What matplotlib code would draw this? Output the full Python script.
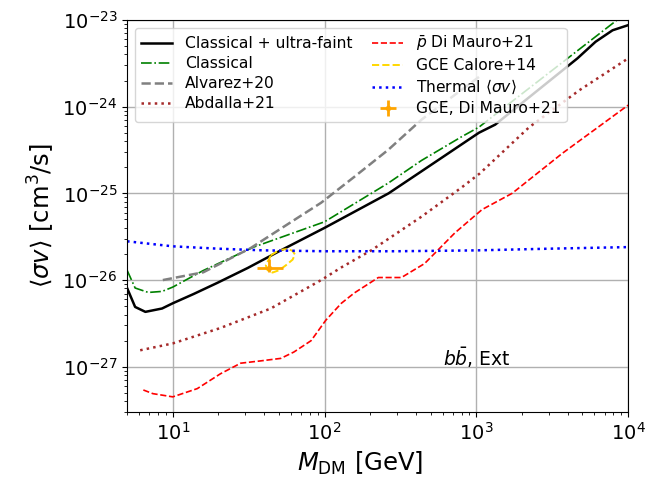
import matplotlib

matplotlib.use("Agg")
import matplotlib.pyplot as plt
import numpy as np

# Upper limits on <sigma v> vs DM mass, b-bbar channel
m_combined = [5, 5.65, 6.6, 8.5, 10, 13.7, 19.7, 31.2, 51.5, 100, 264, 436, 1040, 1330, 4630,
              6100, 7900, 10000]
sv_combined = [8.1e-27, 4.9e-27, 4.3e-27, 4.7e-27, 5.4e-27, 6.9e-27, 9.3e-27, 1.38e-26, 2.2e-26,
               4.0e-26, 1.0e-25, 1.8e-25, 5.0e-25, 6.2e-25, 3.6e-24, 5.6e-24, 7.6e-24, 8.7e-24]

m_classical = [5, 5.65, 6.9, 8.5, 10, 15.9, 34.1, 100, 264, 436, 800, 1040, 8150, 10000]
sv_classical = [1.3e-26, 8.1e-27, 7.2e-27, 7.4e-27, 8.3e-27, 1.29e-26, 2.4e-26, 4.7e-26,
                1.32e-25, 2.4e-25, 4.5e-25, 5.8e-25, 9.5e-24, 1.25e-23]

m_alvarez = [8.6, 15.9, 32.6, 62.8, 95, 157, 264, 436, 1040]
sv_alvarez = [1.0e-26, 1.23e-26, 2.34e-26, 4.9e-26, 7.8e-26, 1.55e-25, 3.2e-25, 7.1e-25, 2.2e-24]

m_abdalla = [6.1, 10, 20.6, 44.2, 95, 129, 203, 436, 800, 1055, 2230, 4780, 10000]
sv_abdalla = [1.55e-27, 1.86e-27, 2.8e-27, 4.7e-27, 1.0e-26, 1.4e-26, 2.2e-26, 5.4e-26,
              1.17e-25, 1.7e-25, 5.8e-25, 1.55e-24, 3.6e-24]

m_pbar = [6.4, 7.4, 10, 14.5, 20.6, 28, 38, 51.5, 62.8, 81.5, 102, 129, 157, 226, 321, 456,
          722, 1090, 1720, 3690, 10000]
sv_pbar = [5.4e-28, 4.9e-28, 4.5e-28, 5.6e-28, 8.3e-28, 1.1e-27, 1.17e-27, 1.25e-27, 1.48e-27,
           2.0e-27, 3.45e-27, 5.4e-27, 7.1e-27, 1.07e-26, 1.07e-26, 1.55e-26, 3.5e-26, 6.5e-26,
           1.0e-25, 2.9e-25, 1.04e-24]

m_thermal = [5, 10, 20, 40, 100, 300, 1000, 3000, 10000]
sv_thermal = [2.8e-26, 2.45e-26, 2.3e-26, 2.2e-26, 2.15e-26, 2.15e-26, 2.2e-26, 2.3e-26, 2.4e-26]

# GCE contour (Calore+14), closed loop
m_calore = [44.3, 50.2, 57.1, 61.6, 63.8, 61.6, 55.6, 50.2, 45.4, 42.1, 41.0, 44.3]
sv_calore = [1.93e-26, 2.21e-26, 2.29e-26, 2.17e-26, 1.97e-26, 1.72e-26, 1.48e-26, 1.30e-26,
             1.22e-26, 1.30e-26, 1.48e-26, 1.93e-26]

# GCE best fit (Di Mauro+21) with ranges
gce_mass = 43.0
gce_mass_range = (35.7, 53.0)
gce_sv = 1.38e-26
gce_sv_range = (1.23e-26, 1.74e-26)

fig = plt.figure(figsize=(6.55, 4.86), dpi=100)
ax = fig.add_axes([0.194, 0.152, 0.765, 0.807])

ax.plot(m_combined, sv_combined, color="black", lw=1.8, label="Classical + ultra-faint")
ax.plot(m_classical, sv_classical, color="green", ls="-.", lw=1.2, label="Classical")
ax.plot(m_alvarez, sv_alvarez, color="gray", ls="--", lw=1.8, label="Alvarez+20")
ax.plot(m_abdalla, sv_abdalla, color="brown", ls=":", lw=1.8, label="Abdalla+21")
ax.plot(m_pbar, sv_pbar, color="red", ls="--", lw=1.2, label=r"$\bar{p}$ Di Mauro+21")
ax.plot(m_calore, sv_calore, color="gold", ls="--", lw=1.4, label="GCE Calore+14")
ax.plot(m_thermal, sv_thermal, color="blue", ls=":", lw=1.8, label=r"Thermal $\langle \sigma v\rangle$")
ax.errorbar(
    gce_mass,
    gce_sv,
    xerr=[[gce_mass - gce_mass_range[0]], [gce_mass_range[1] - gce_mass]],
    yerr=[[gce_sv - gce_sv_range[0]], [gce_sv_range[1] - gce_sv]],
    fmt="o",
    ms=3,
    color="orange",
    elinewidth=2,
    label="GCE, Di Mauro+21",
)

ax.set_xscale("log")
ax.set_yscale("log")
ax.set_xlim(5, 1e4)
ax.set_ylim(3e-28, 1e-23)
ax.grid(True, which="major", color="#b0b0b0", lw=1)
ax.tick_params(labelsize=14)

ax.set_xlabel(r"$M_{\rm DM}$ [GeV]", fontsize=17.5, x=0.465)
ax.set_ylabel(r"$\langle \sigma v\rangle$ [cm$^3$/s]", fontsize=17.5)
ax.text(0.631, 0.14, r"$b\bar{b}$, Ext", transform=ax.transAxes, fontsize=13.5, va="center")

ax.legend(loc="upper left", ncol=2, fontsize=11.2, labelspacing=0.32, columnspacing=1.3)

fig.savefig("out.png", dpi=100)
